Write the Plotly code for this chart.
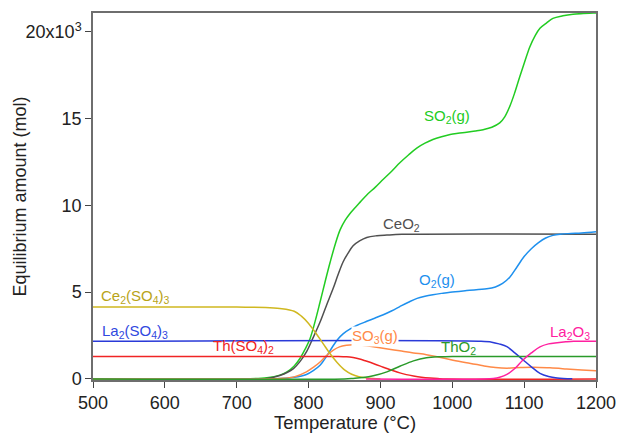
import plotly.graph_objects as go

# ---------------- data (amounts in mol) ----------------
so2_T = [500, 700, 742, 760, 770, 780, 788, 795, 802, 809, 816, 823, 830, 837, 844, 851, 858, 870, 881,
         893, 904, 916, 927, 939, 951, 962, 973, 985, 997, 1008, 1020, 1032, 1043, 1055, 1066, 1073, 1080,
         1087, 1094, 1101, 1108, 1115, 1122, 1131, 1140, 1154, 1168, 1182, 1196, 1200]
so2_v = [0, 0, 70, 220, 410, 750, 1180, 1700, 2320, 3300, 4430, 5600, 6720, 7750, 8600, 9150, 9550, 10100, 10600,
         11050, 11500, 11980, 12450, 12900, 13310, 13580, 13790, 13950, 14080, 14150, 14210, 14280, 14360, 14500,
         14750, 15100, 15700, 16500, 17420, 18300, 19140, 19750, 20200, 20500, 20770, 20920, 21010, 21050, 21080, 21080]

ceo2_T = [500, 700, 742, 760, 779, 788, 797, 806, 816, 825, 834, 841, 848, 855, 862, 871, 881, 895, 909, 930, 1200]
ceo2_v = [0, 0, 30, 200, 600, 1000, 1560, 2350, 3280, 4250, 5190, 6000, 6740, 7250, 7670, 7950, 8150, 8250,
          8290, 8330, 8340]

o2_T = [500, 700, 760, 780, 797, 807, 816, 825, 834, 841, 848, 858, 867, 881, 892, 904, 916, 927, 939, 951, 962,
        973, 985, 997, 1020, 1048, 1060, 1070, 1080, 1090, 1100, 1110, 1120, 1130, 1140, 1150, 1165, 1180, 1200]
o2_v = [0, 0, 30, 100, 260, 500, 790, 1300, 1900, 2300, 2600, 2880, 3080, 3320, 3500, 3700, 3930, 4170, 4420, 4640,
        4760, 4850, 4930, 5000, 5090, 5190, 5300, 5500, 5860, 6450, 7050, 7500, 7850, 8120, 8270, 8340, 8380,
        8410, 8480]

so3_T = [500, 700, 760, 780, 797, 807, 816, 825, 834, 843, 853, 862, 872, 890, 910, 927, 946, 964, 982, 1001, 1020,
         1043, 1060, 1076, 1095, 1113, 1136, 1159, 1180, 1200]
so3_v = [0, 0, 30, 120, 410, 680, 980, 1350, 1650, 1850, 1940, 1970, 1950, 1850, 1730, 1620, 1500, 1400, 1250,
         1080, 930, 760, 660, 620, 660, 680, 640, 580, 520, 470]

ce2so43_T = [500, 700, 740, 760, 780, 790, 800, 810, 820, 830, 840, 850, 860, 870, 880, 890, 900]
ce2so43_v = [4140, 4140, 4120, 4060, 3900, 3620, 3200, 2650, 2050, 1450, 930, 520, 270, 130, 60, 20, 0]

la2so43_T = [500, 1040, 1055, 1065, 1076, 1087, 1098, 1110, 1122, 1134, 1146, 1167]
la2so43_v = [2170, 2170, 2120, 2020, 1860, 1500, 1120, 700, 320, 140, 60, 10]

thso42_T = [500, 840, 853, 862, 871, 880, 890, 900, 909, 918, 927, 936, 946, 957, 969, 980, 992, 1200]
thso42_v = [1300, 1300, 1280, 1230, 1150, 1030, 890, 740, 600, 470, 350, 250, 170, 100, 50, 20, 0, 0]

tho2_T = [500, 850, 862, 876, 890, 909, 927, 946, 964, 983, 1000, 1200]
tho2_v = [0, 0, 30, 80, 180, 410, 730, 1040, 1220, 1280, 1300, 1300]

la2o3_T = [880, 1045, 1057, 1066, 1076, 1087, 1098, 1110, 1122, 1134, 1146, 1158, 1169, 1200]
la2o3_v = [0, 0, 30, 100, 260, 600, 1080, 1500, 1850, 2020, 2090, 2140, 2170, 2170]

x_ticks = [500, 600, 700, 800, 900, 1000, 1100, 1200]
y_ticks = [0, 5000, 10000, 15000, 20000]
y_ticktext = ["0", "5", "10", "15", "20x10<sup>3</sup>"]

series = [
    ("SO2(g)", so2_T, so2_v, "#22cc22"),
    ("CeO2", ceo2_T, ceo2_v, "#505050"),
    ("O2(g)", o2_T, o2_v, "#1e90ee"),
    ("SO3(g)", so3_T, so3_v, "#ff8a48"),
    ("Th(SO4)2", thso42_T, thso42_v, "#f02424"),
    ("La2(SO4)3", la2so43_T, la2so43_v, "#2a3ad8"),
    ("Ce2(SO4)3", ce2so43_T, ce2so43_v, "#d0b820"),
    ("ThO2", tho2_T, tho2_v, "#2a9a2a"),
    ("La2O3", la2o3_T, la2o3_v, "#ff20a0"),
]

labels = [
    ("SO<sub>2</sub>(g)", 993, 15110, "center", "#22cc22"),
    ("CeO<sub>2</sub>", 929.5, 8920, "center", "#505050"),
    ("O<sub>2</sub>(g)", 979, 5690, "center", "#1e90ee"),
    ("SO<sub>3</sub>(g)", 892.5, 2420, "center", "#ff8a48"),
    ("Th(SO<sub>4</sub>)<sub>2</sub>", 665, 1860, "left", "#f02424"),
    ("La<sub>2</sub>(SO<sub>4</sub>)<sub>3</sub>", 511, 2720, "left", "#3048e0"),
    ("Ce<sub>2</sub>(SO<sub>4</sub>)<sub>3</sub>", 510, 4730, "left", "#b8a418"),
    ("ThO<sub>2</sub>", 1008, 1810, "center", "#2a9a2a"),
    ("La<sub>2</sub>O<sub>3</sub>", 1164, 2680, "center", "#ff20a0"),
]

FONT = "Liberation Sans, Arial"

fig = go.Figure()
for name, T, v, col in series:
    fig.add_trace(go.Scatter(x=T, y=v, mode="lines", name=name,
                             line=dict(color=col, width=1.5, shape="spline", smoothing=1.0),
                             hoverinfo="skip"))

for txt, lx, ly, xa, col in labels:
    fig.add_annotation(x=lx, y=ly, xref="x", yref="y", text=txt, showarrow=False,
                       xanchor=xa, yanchor="middle",
                       font=dict(family=FONT, size=15, color=col),
                       bgcolor="white" if txt.startswith("SO<sub>3") else None, borderpad=0)

# axis titles as text placed relative to the plot area
fig.add_annotation(x=-0.147, y=0.5, xref="paper", yref="paper", text="Equilibrium amount (mol)",
                   textangle=-90, showarrow=False, xanchor="center", yanchor="middle",
                   font=dict(family=FONT, size=18, color="#222"))
fig.add_annotation(x=0.5, y=-0.117, xref="paper", yref="paper", text="Temperature (°C)",
                   showarrow=False, xanchor="center", yanchor="middle",
                   font=dict(family=FONT, size=18.5, color="#222"))

axis_common = dict(showline=True, linecolor="#6e6e6e", linewidth=1.5, mirror=True,
                   ticks="outside", ticklen=6, tickwidth=1.2, tickcolor="#444",
                   showgrid=False, zeroline=False, layer="below traces", automargin=False,
                   tickfont=dict(family=FONT, size=18, color="#222"))

fig.update_layout(
    width=619, height=434,
    margin=dict(l=93, r=23, t=13, b=54),
    paper_bgcolor="white", plot_bgcolor="white",
    showlegend=False,
    font=dict(family=FONT, size=18, color="#222"),
    xaxis=dict(range=[500, 1200], tickvals=x_ticks, **axis_common),
    yaxis=dict(range=[-60, 21080], tickvals=y_ticks, ticktext=y_ticktext, **axis_common),
)

fig.write_html("out.html")
